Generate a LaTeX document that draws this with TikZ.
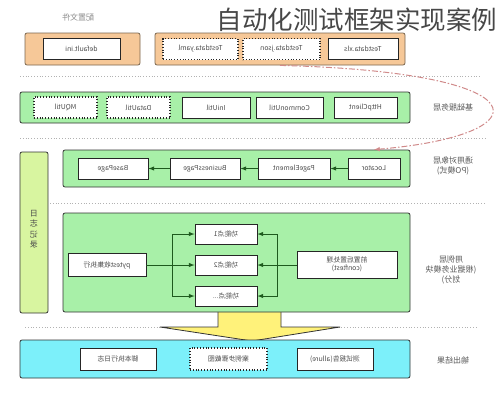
\documentclass[tikz,border=0pt]{standalone}
\usepackage{fontspec}
\setmainfont{Noto Sans CJK SC}
\usepackage{graphicx}
\usetikzlibrary{arrows,shapes}
\usetikzlibrary{positioning}

\definecolor{cfgorange}{HTML}{F6C898}
\definecolor{cfgedge}{HTML}{7A6650}
\definecolor{layergreen}{HTML}{A8F0A8}
\definecolor{loggreen}{HTML}{D8F5A0}
\definecolor{outcyan}{HTML}{7CF0FA}
\definecolor{bigyellow}{HTML}{FFF27A}
\definecolor{flowgreen}{HTML}{1E5A1E}
\definecolor{curvered}{HTML}{D08A8A}

% the source picture is mirrored, so its texts are too
\newcommand\rv[1]{\reflectbox{#1}}
\newcommand\rvl[1]{\reflectbox{\begin{tabular}{@{}c@{}}#1\end{tabular}}}

\tikzset{
	layer/.style={draw=black!80, line width=0.8pt, rounded corners=2pt, inner sep=0pt},
	item/.style={draw=black!85, fill=white, line width=0.8pt, inner sep=1pt,
		minimum height=21pt, text=black!70, font=\fontsize{6.8}{8.5}\selectfont},
	dotitem/.style={item, dotted, line width=1.1pt},
	sidelabel/.style={text=black!65, font=\fontsize{8}{10}\selectfont, align=center},
	sepline/.style={draw=black!30, dotted, line width=0.8pt},
	flow/.style={-latex, draw=flowgreen, line width=1pt},
	flowline/.style={draw=flowgreen, line width=1pt},
}

\begin{document}
\begin{tikzpicture}[x=1pt,y=-1pt]
\useasboundingbox (0,0) rectangle (496,400);

% separators
\draw[sepline] (20,76) -- (480,76);
\draw[sepline] (20,138) -- (485,138);
\draw[sepline] (50,203) -- (485,203);
\draw[sepline] (25,327) -- (478,327);

% config files
\node [sidelabel, text=black!45] (cfglabel) at (78,17) {\rv{配置文件}};
\node [layer, draw=cfgedge, fill=cfgorange, minimum width=115pt, minimum height=32pt] (cfgA) at (82.5,49) {};
\node [layer, draw=cfgedge, fill=cfgorange, minimum width=250pt, minimum height=32pt] (cfgB) at (280,49) {};
\node [item, minimum width=77pt] (ini) at (81.5,49) {\rv{default.ini}};
\node [dotitem, minimum width=75pt] (yaml) at (200.5,49) {\rv{Testdata.yaml}};
\node [dotitem, minimum width=77pt] (json) at (281.5,49) {\rv{Testdata.json}};
\node [item, minimum width=70pt] (xls) at (363,49) {\rv{Testdata.xls}};

% base services
\node [layer, fill=layergreen, minimum width=390pt, minimum height=31pt] (base) at (215,107.5) {};
\node [dotitem, minimum width=63pt] (mq) at (65.5,107.5) {\rv{MQUtil}};
\node [dotitem, minimum width=63pt] (data) at (138.5,107.5) {\rv{DataUtil}};
\node [item, minimum width=68pt] (iniutil) at (216,107.5) {\rv{IniUtil}};
\node [item, minimum width=67pt] (common) at (289.5,107.5) {\rv{CommonUtil}};
\node [item, minimum width=63pt] (http) at (365.5,107.5) {\rv{HttpClient}};
\node [sidelabel] (baselabel) at (453,107) {\rv{基础服务层}};

% page objects
\node [layer, fill=layergreen, minimum width=347pt, minimum height=37pt] (po) at (236.5,168.5) {};
\node [item, minimum width=70pt] (bp) at (113,168.5) {\rv{BasePage}};
\node [item, minimum width=70pt] (busp) at (205,168.5) {\rv{BusinessPage}};
\node [item, minimum width=72pt] (pe) at (294,168.5) {\rv{PageElement}};
\node [item, minimum width=52pt] (loc) at (374,168.5) {\rv{Locator}};
\draw[flow] (loc.west) -- (pe.east);
\draw[flow] (pe.west) -- (busp.east);
\draw[flow] (busp.west) -- (bp.east);
\node [sidelabel] (polabel) at (453,166) {\rvl{通用对象层\\(PO模式)}};

% logging
\node [layer, fill=loggreen, minimum width=28pt, minimum height=161pt] (log) at (34,232.5) {};
\node [sidelabel, text=black!70, font=\fontsize{8}{10.5}\selectfont] (logtext) at (34,230) {\rvl{日\\志\\记\\录}};

% big arrow to the output
\draw[draw=black!80, line width=0.8pt, fill=bigyellow] (218,311) -- (218,327) -- (160,327) -- (252,341)
	-- (340,327) -- (281,327) -- (281,311);

% test cases
\node [layer, fill=layergreen, minimum width=347pt, minimum height=99pt] (case) at (236.5,262.5) {};
\node [item, minimum width=78pt, minimum height=23pt] (pytest) at (107,265) {\rv{pytest收集执行}};
\node [item, minimum width=62pt, minimum height=20pt] (f1) at (226,234) {\rv{功能点1}};
\node [item, minimum width=62pt, minimum height=20pt] (f2) at (226,265) {\rv{功能点2}};
\node [item, minimum width=62pt, minimum height=20pt] (f3) at (226,296) {\rv{功能点...}};
\node [item, minimum width=100pt, minimum height=27pt, align=center] (conf) at (347,265) {\rvl{前置后置处理\\(conftest)}};
\draw[flowline] (pytest.east) -- ++(26,0) coordinate (splitL);
\draw[flowline] (splitL |- f1.west) -- (splitL |- f3.west);
\draw[flowline] (conf.west) -- ++(-19,0) coordinate (splitR);
\draw[flowline] (splitR |- f1.east) -- (splitR |- f3.east);
\foreach \f in {f1,f2,f3}{
	\draw[flow] (splitL |- \f.west) -- (\f.west);
	\draw[flow] (splitR |- \f.east) -- (\f.east);
}
\node [sidelabel] (caselabel) at (451,270) {\rvl{用例层\\(根据业务模块\\划分)}};

% output
\node [layer, fill=outcyan, minimum width=390pt, minimum height=38pt] (out) at (215,359) {};
\node [item, minimum width=76pt, minimum height=22pt] (runlog) at (118,359) {\rv{脚本执行日志}};
\node [dotitem, minimum width=77pt, minimum height=22pt] (shot) at (228.5,359) {\rv{案例步骤截图}};
\node [item, minimum width=76pt, minimum height=22pt] (report) at (335,359) {\rv{测试报告(allure)}};
\node [sidelabel] (outlabel) at (453,360) {\rv{输出结果}};

% data feeds the locators
\draw[-latex, draw=curvered, line width=1pt, dash pattern=on 6pt off 2pt on 1.5pt off 2pt]
	(cfgB.south) .. controls (545,72) and (545,135) .. (po.north -| loc.north);

% title
\node [text=black!72, font=\fontsize{25.5}{26}\selectfont] (title) at (357,20) {自动化测试框架实现案例};

\end{tikzpicture}
\end{document}
